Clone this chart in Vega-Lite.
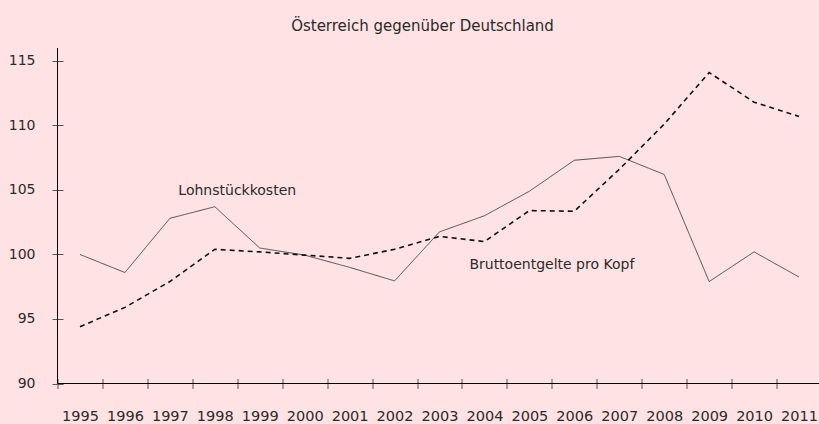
{
  "$schema": "https://vega.github.io/schema/vega-lite/v6.json",
  "autosize": "none",
  "width": 764,
  "height": 335.5,
  "padding": {"left": 57.5, "top": 48, "right": 0, "bottom": 40.5},
  "background": "#ffe3e4",
  "title": {"text": "Österreich gegenüber Deutschland", "anchor": "middle", "dx": -17, "offset": 14, "fontSize": 15, "fontWeight": "normal", "color": "#2a2a2a", "font": "DejaVu Sans"},
  "config": {"view": {"stroke": null}, "font": "DejaVu Sans"},
  "layer": [
    {
      "data": {"values": [
        {"year": "1995", "series": "Lohnstückkosten", "value": 100.0},
        {"year": "1996", "series": "Lohnstückkosten", "value": 98.6},
        {"year": "1997", "series": "Lohnstückkosten", "value": 102.8},
        {"year": "1998", "series": "Lohnstückkosten", "value": 103.7},
        {"year": "1999", "series": "Lohnstückkosten", "value": 100.5},
        {"year": "2000", "series": "Lohnstückkosten", "value": 99.95},
        {"year": "2001", "series": "Lohnstückkosten", "value": 99.0},
        {"year": "2002", "series": "Lohnstückkosten", "value": 97.95},
        {"year": "2003", "series": "Lohnstückkosten", "value": 101.75},
        {"year": "2004", "series": "Lohnstückkosten", "value": 103.0},
        {"year": "2005", "series": "Lohnstückkosten", "value": 104.9},
        {"year": "2006", "series": "Lohnstückkosten", "value": 107.3},
        {"year": "2007", "series": "Lohnstückkosten", "value": 107.6},
        {"year": "2008", "series": "Lohnstückkosten", "value": 106.2},
        {"year": "2009", "series": "Lohnstückkosten", "value": 97.9},
        {"year": "2010", "series": "Lohnstückkosten", "value": 100.2},
        {"year": "2011", "series": "Lohnstückkosten", "value": 98.25},
        {"year": "1995", "series": "Bruttoentgelte pro Kopf", "value": 94.4},
        {"year": "1996", "series": "Bruttoentgelte pro Kopf", "value": 95.9},
        {"year": "1997", "series": "Bruttoentgelte pro Kopf", "value": 97.9},
        {"year": "1998", "series": "Bruttoentgelte pro Kopf", "value": 100.4},
        {"year": "1999", "series": "Bruttoentgelte pro Kopf", "value": 100.2},
        {"year": "2000", "series": "Bruttoentgelte pro Kopf", "value": 99.95},
        {"year": "2001", "series": "Bruttoentgelte pro Kopf", "value": 99.7},
        {"year": "2002", "series": "Bruttoentgelte pro Kopf", "value": 100.4},
        {"year": "2003", "series": "Bruttoentgelte pro Kopf", "value": 101.4},
        {"year": "2004", "series": "Bruttoentgelte pro Kopf", "value": 101.0},
        {"year": "2005", "series": "Bruttoentgelte pro Kopf", "value": 103.4},
        {"year": "2006", "series": "Bruttoentgelte pro Kopf", "value": 103.35},
        {"year": "2007", "series": "Bruttoentgelte pro Kopf", "value": 106.6},
        {"year": "2008", "series": "Bruttoentgelte pro Kopf", "value": 110.1},
        {"year": "2009", "series": "Bruttoentgelte pro Kopf", "value": 114.1},
        {"year": "2010", "series": "Bruttoentgelte pro Kopf", "value": 111.8},
        {"year": "2011", "series": "Bruttoentgelte pro Kopf", "value": 110.7}
      ]},
      "mark": {"type": "line"},
      "encoding": {
        "x": {"field": "year", "type": "ordinal", "scale": {"type": "band", "paddingInner": 0, "paddingOuter": 0},
          "axis": {"title": null, "labelAngle": 0, "tickBand": "extent", "domain": false, "offset": -5, "tickSize": 10, "tickColor": "#555", "tickWidth": 1, "labelPadding": 21, "labelFontSize": 14.5, "labelColor": "#2a2a2a", "labelFont": "DejaVu Sans", "grid": false}},
        "y": {"field": "value", "type": "quantitative", "scale": {"domain": [90, 116], "nice": false, "zero": false},
          "axis": {"title": null, "values": [90, 95, 100, 105, 110, 115], "domain": false, "offset": -5.5, "tickSize": 11, "tickColor": "#555", "tickWidth": 1, "labelPadding": 17, "labelFontSize": 14, "labelColor": "#2a2a2a", "labelFont": "DejaVu Sans", "grid": false}},
        "detail": {"field": "series"},
        "strokeDash": {"field": "series", "type": "nominal", "scale": {"domain": ["Lohnstückkosten", "Bruttoentgelte pro Kopf"], "range": [[1, 0], [5, 4]]}, "legend": null},
        "strokeWidth": {"field": "series", "type": "nominal", "scale": {"domain": ["Lohnstückkosten", "Bruttoentgelte pro Kopf"], "range": [0.9, 1.6]}, "legend": null},
        "color": {"field": "series", "type": "nominal", "scale": {"domain": ["Lohnstückkosten", "Bruttoentgelte pro Kopf"], "range": ["#3a3a3a", "#111111"]}, "legend": null}
      }
    },
    {
      "data": {"values": [
        {"label": "Lohnstückkosten", "year": "1998", "value": 104.9},
        {"label": "Bruttoentgelte pro Kopf", "year": "2005", "value": 99.2}
      ]},
      "mark": {"type": "text", "align": "center", "baseline": "middle", "fontSize": 14, "color": "#2a2a2a", "font": "DejaVu Sans"},
      "encoding": {
        "x": {"field": "year", "type": "ordinal", "bandPosition": 1},
        "y": {"field": "value", "type": "quantitative"},
        "text": {"field": "label"}
      }
    },
    {
      "data": {"values": [{}]},
      "mark": {"type": "rule", "color": "#000", "strokeWidth": 1},
      "encoding": {
        "y": {"datum": 90, "type": "quantitative"}
      }
    },
    {
      "data": {"values": [{}]},
      "mark": {"type": "rule", "color": "#000", "strokeWidth": 1},
      "encoding": {
        "x": {"datum": "1995", "type": "ordinal", "bandPosition": 0},
        "y": {"datum": 90, "type": "quantitative"},
        "y2": {"datum": 116}
      }
    }
  ]
}
